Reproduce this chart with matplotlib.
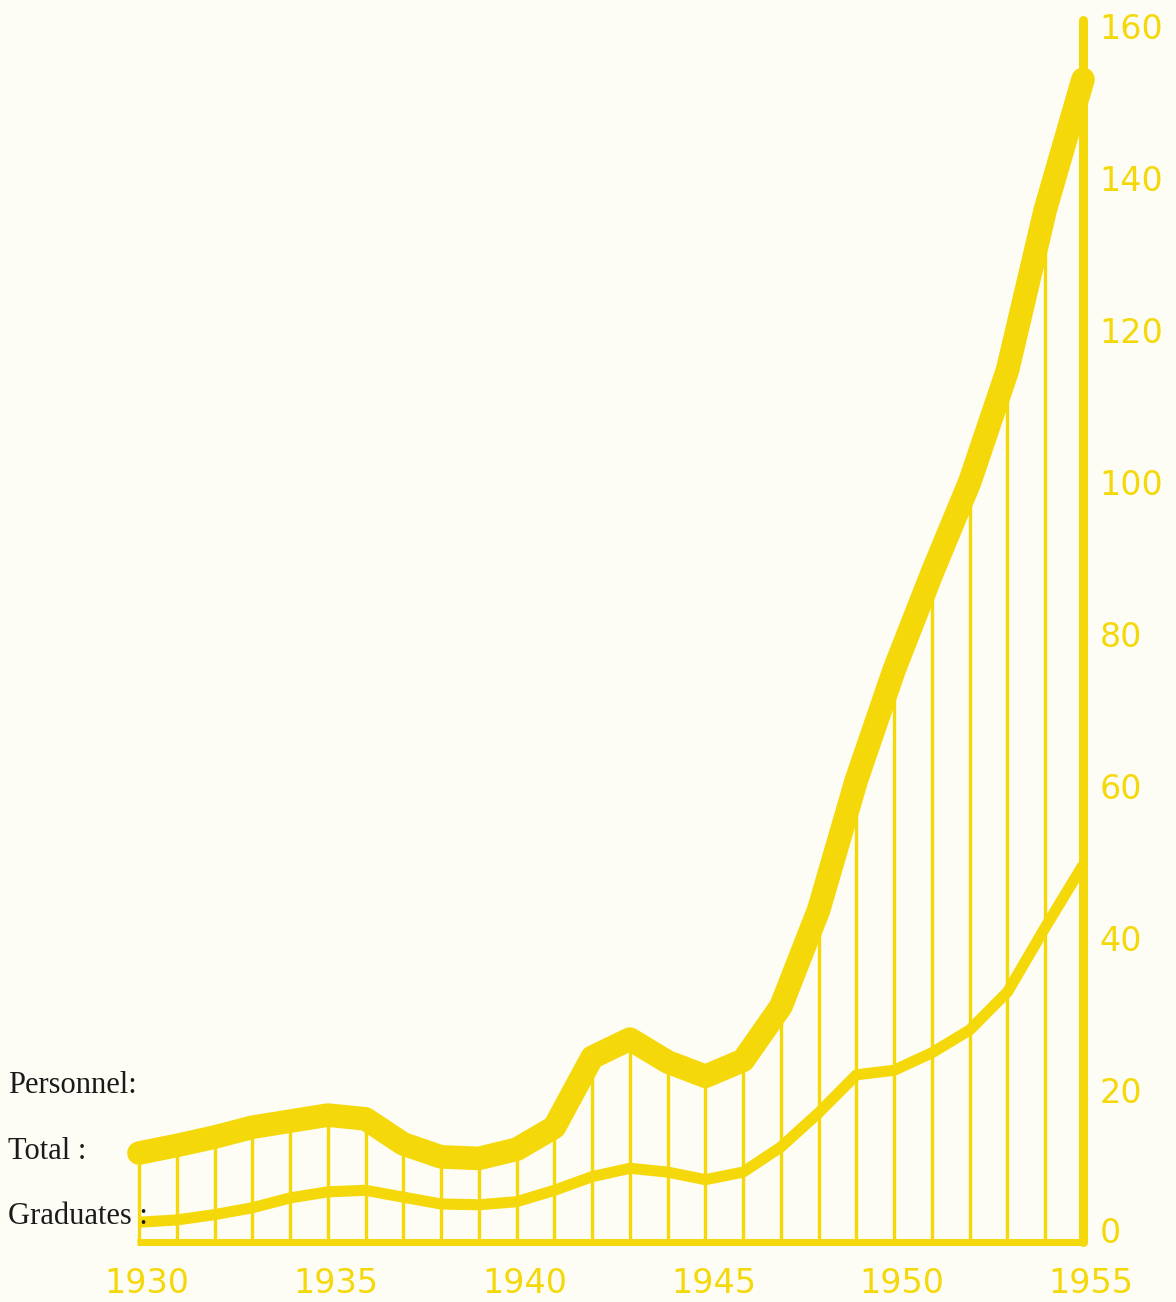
#personnel chart 1930-1955
import numpy as np
import matplotlib.pyplot as plt
from matplotlib.transforms import ScaledTranslation

years = np.arange(1930, 1956)
total = [11.7, 12.7, 13.8, 15.1, 15.9, 16.7, 16.2, 12.9, 11.2, 11.0,
         12.2, 15.1, 24.3, 26.7, 23.7, 21.8, 23.9, 31.0, 43.7, 60.8,
         75.3, 88.0, 100.0, 114.7, 135.8, 153.0]
graduates = [2.6, 2.9, 3.6, 4.5, 5.8, 6.6, 6.8, 5.9, 5.0, 4.9,
             5.3, 6.8, 8.6, 9.7, 9.2, 8.2, 9.2, 12.5, 17.0, 22.0,
             22.6, 24.9, 27.9, 32.9, 41.4, 49.6]
xticks = [1930, 1935, 1940, 1945, 1950, 1955]
yticks = [0, 20, 40, 60, 80, 100, 120, 140, 160]
labels = ['Personnel:', 'Total :', 'Graduates :']

yel = '#F5D80A'
bg = '#FEFDF5'

fig = plt.figure(figsize=(11.76, 13.02), dpi=100, facecolor=bg)
ax = fig.add_axes([139/1176, 1-1242/1302, (1083-139)/1176, (1242-20)/1302])
ax.set_facecolor(bg)
ax.set_xlim(1930, 1955)
ax.set_ylim(0, 160.8)
for s in ax.spines.values():
    s.set_visible(False)

#vertical hatching up to total curve
ax.vlines(years[:-1], 0, total[:-1], color=yel, lw=2.4, clip_on=False)
#right axis bar
ax.plot([1955, 1955], [0, 160.8], color=yel, lw=6.5, solid_capstyle='round', clip_on=False)
#baseline
ax.plot([1929.95, 1955], [0, 0], color=yel, lw=5, solid_capstyle='butt', clip_on=False)
ax.plot(years, graduates, color=yel, lw=8, solid_joinstyle='round', solid_capstyle='butt', clip_on=False)
ax.plot(years, total, color=yel, lw=17, solid_joinstyle='round', solid_capstyle='round', clip_on=False)

ax.set_xticks(xticks)
ax.set_xticklabels([str(t) for t in xticks])
ax.set_yticks(yticks)
ax.set_yticklabels([str(t) for t in yticks])
ax.yaxis.tick_right()
ax.tick_params(axis='x', length=0, pad=18, labelsize=24, labelcolor=yel)
ax.tick_params(axis='y', length=0, pad=12, labelsize=24, labelcolor=yel)
for t in ax.get_xticklabels() + ax.get_yticklabels():
    t.set_family('DejaVu Sans')
#x labels sit a little right of the year lines, the 0 a little high
for t in ax.get_xticklabels():
    t.set_transform(t.get_transform() + ScaledTranslation(0.08, 0, fig.dpi_scale_trans))
y0 = ax.get_yticklabels()[0]
y0.set_transform(y0.get_transform() + ScaledTranslation(0, 0.12, fig.dpi_scale_trans))

#legend-ish labels on the left
for lab, yp in zip(labels, [1093, 1159, 1224]):
    fig.text(8/1176, 1-yp/1302, lab, fontsize=22, family='Liberation Serif',
             color='#1a1a1a', ha='left', va='baseline')

plt.savefig('out.png', dpi=100, facecolor=bg)
